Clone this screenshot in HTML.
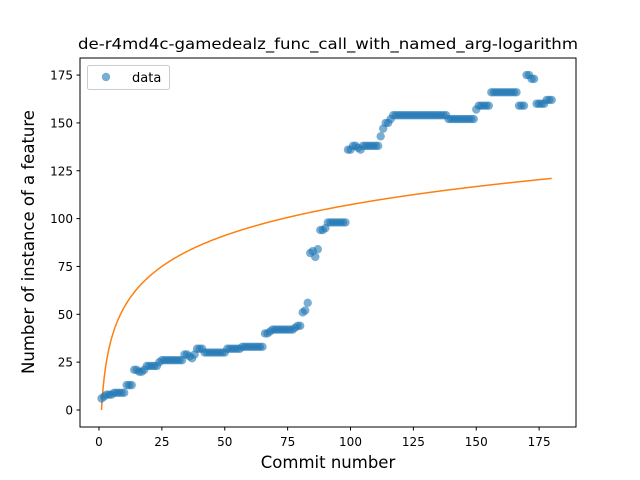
<!DOCTYPE html>
<html><head><meta charset="utf-8"><style>
body{margin:0;background:#fff}
svg{display:block;font-family:"DejaVu Sans","Liberation Sans",sans-serif}
</style></head><body>
<svg id="chart" width="640" height="480" viewBox="0 0 640 480">
<rect width="640" height="480" fill="#fff"/>
<text x="328" y="49" text-anchor="middle" font-size="15.5" textLength="500" lengthAdjust="spacingAndGlyphs">de-r4md4c-gamedealz_func_call_with_named_arg-logarithm</text>
<g id="grid"></g>
<g id="fit"></g>
<g id="points"></g>
<rect x="80" y="58" width="496" height="369" fill="none" stroke="#000" stroke-width="1"/>
<text x="328" y="468" text-anchor="middle" font-size="16.5">Commit number</text>
<text transform="translate(34,242) rotate(-90)" text-anchor="middle" font-size="16.5">Number of instance of a feature</text>
<g>
<rect x="87.5" y="65.5" width="82" height="24" rx="2" fill="#fff" stroke="#ccc"/>
<circle cx="106" cy="77" r="4.2" fill="#1f77b4" fill-opacity="0.6"/>
<text x="132" y="82" font-size="13">data</text>
</g>
</svg>
<script>
const commits=[];for(let i=1;i<=180;i++)commits.push(i);
const counts=[6,7,8,8,8,9,9,9,9,9,13,13,13,21,21,20,20,21,23,23,23,23,23,25,26,26,26,26,26,26,26,26,26,29,29,28,27,29,32,32,32,30,30,30,30,30,30,30,30,30,32,32,32,32,32,32,33,33,33,33,33,33,33,33,33,40,40,41,42,42,42,42,42,42,42,42,42,43,44,44,51,52,56,82,83,80,84,94,94,95,98,98,98,98,98,98,98,98,136,136,138,138,137,136,138,138,138,138,138,138,138,143,147,150,150,152,154,154,154,154,154,154,154,154,154,154,154,154,154,154,154,154,154,154,154,154,154,154,152,152,152,152,152,152,152,152,152,152,152,157,159,159,159,159,159,166,166,166,166,166,166,166,166,166,166,166,159,159,159,175,175,173,173,160,160,160,160,162,162,162];
const fitA=23.3, fitB=0;
const xTicks=[0,25,50,75,100,125,150,175];
const yTicks=[0,25,50,75,100,125,150,175];
const X=v=>99+v*2.515, Y=v=>410-v*1.914;
const NS="http://www.w3.org/2000/svg";
const g=document.getElementById('grid');
xTicks.forEach(t=>{
 const l=document.createElementNS(NS,'line');
 l.setAttribute('x1',X(t));l.setAttribute('x2',X(t));l.setAttribute('y1',427);l.setAttribute('y2',430.5);l.setAttribute('stroke','#000');
 
 
 g.appendChild(l);
 const tx=document.createElementNS(NS,'text');
 tx.setAttribute('x',X(t));tx.setAttribute('y',446);tx.setAttribute('text-anchor','middle');tx.setAttribute('font-size','12');tx.textContent=t;
 
 
 g.appendChild(tx);
});
yTicks.forEach(t=>{
 const l=document.createElementNS(NS,'line');
 l.setAttribute('x1',76.5);l.setAttribute('x2',80);l.setAttribute('y1',Y(t));l.setAttribute('y2',Y(t));l.setAttribute('stroke','#000');
 
 
 g.appendChild(l);
 const tx=document.createElementNS(NS,'text');
 tx.setAttribute('x',73);tx.setAttribute('y',Y(t)+4.5);tx.setAttribute('text-anchor','end');tx.setAttribute('font-size','12');tx.textContent=t;
 
 
 g.appendChild(tx);
});
const pg=document.getElementById('points');
commits.forEach((c,i)=>{
 const p=document.createElementNS(NS,'circle');
 p.setAttribute('cx',X(c));p.setAttribute('cy',Y(counts[i]));p.setAttribute('r',4.2);
 p.setAttribute('fill','#1f77b4');p.setAttribute('fill-opacity','0.6');
 
 
 pg.appendChild(p);
});
let d='';
for(let x=1;x<=180;x+=0.25){const y=fitA*Math.log(x)+fitB;d+=(d?'L':'M')+X(x).toFixed(2)+','+Y(y).toFixed(2);}
const fp=document.createElementNS(NS,'path');
fp.setAttribute('d',d);fp.setAttribute('fill','none');fp.setAttribute('stroke','#ff7f0e');fp.setAttribute('stroke-width','1.5');


document.getElementById('fit').appendChild(fp);
</script>
</body></html>
